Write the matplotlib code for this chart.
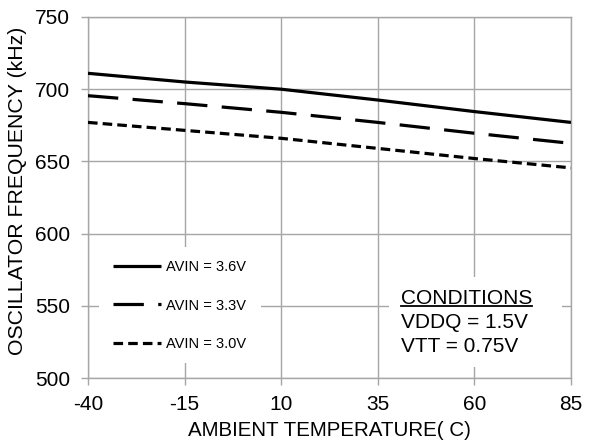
import matplotlib
matplotlib.use("Agg")
import matplotlib.pyplot as plt
from matplotlib.patches import Rectangle

temps = [-40, -15, 10, 35, 60, 85]
avin_36 = [711, 705, 700, 692.5, 684.5, 677]
avin_33 = [695.5, 690, 684, 677, 669.5, 662.5]
avin_30 = [677, 671.5, 666, 659, 652, 645.5]
labels = ["AVIN = 3.6V", "AVIN = 3.3V", "AVIN = 3.0V"]
yticks = [500, 550, 600, 650, 700, 750]
cond_title = "CONDITIONS"
cond_lines = ["VDDQ = 1.5V", "VTT = 0.75V"]

plt.rcParams['font.family'] = ['Liberation Sans', 'DejaVu Sans']

W, H = 596, 442
fig = plt.figure(figsize=(W/100, H/100), dpi=100)
L, R, T, B = 88, 571, 17, 378
ax = fig.add_axes([L/W, 1 - B/H, (R-L)/W, (B-T)/H])

def ax_x(px):
    return (px - L) / (R - L)

def ax_y(py):
    return (B - py) / (B - T)

grid_c = '#a6a6a6'
lw = 2.3
ax.plot(temps, avin_36, color='black', lw=lw, solid_capstyle='butt', label=labels[0], zorder=3)
ax.plot(temps, avin_33, color='black', lw=lw, dashes=(9.5, 4.5), label=labels[1], zorder=3)
ax.plot(temps, avin_30, color='black', lw=lw, dashes=(3.0, 1.6), label=labels[2], zorder=3)

ax.set_xlim(-40, 85)
ax.set_ylim(500, 750)
ax.set_xticks(temps)
ax.set_xticklabels([str(t) for t in temps])
ax.set_yticks(yticks)
ax.grid(True, color=grid_c, lw=1.0, zorder=0)
ax.set_axisbelow(True)
for s in ax.spines.values():
    s.set_color(grid_c)
    s.set_linewidth(1.0)
ax.tick_params(axis='both', colors=grid_c, length=5, width=1.0, labelcolor='black', labelsize=15)
ax.tick_params(axis='x', pad=7)
ax.tick_params(axis='y', pad=8)

fig.text(329.5/W, 1 - 430.5/H, "AMBIENT TEMPERATURE( C)", fontsize=14.8,
         ha='center', va='center')
fig.text(17.5/W, 1 - 191/H, "OSCILLATOR FREQUENCY (kHz)", fontsize=15.3,
         ha='center', va='center', rotation=90)

# legend background
ax.add_patch(Rectangle((ax_x(99), ax_y(363)), ax_x(261) - ax_x(99), ax_y(247) - ax_y(363),
                       transform=ax.transAxes, facecolor='white', edgecolor='none', zorder=1))
leg = ax.legend(loc='upper left', bbox_to_anchor=(ax_x(113), ax_y(260)),
                frameon=False, fontsize=10.5, handlelength=3.3, handletextpad=0.3,
                labelspacing=1.68, borderpad=0, borderaxespad=0)

# Conditions box
ax.add_patch(Rectangle((ax_x(389), ax_y(367)), ax_x(562) - ax_x(389), ax_y(277) - ax_y(367),
                       transform=ax.transAxes, facecolor='white', edgecolor='none', zorder=1))
ct = ax.text(ax_x(401), ax_y(304), cond_title, transform=ax.transAxes,
             ha='left', va='baseline', fontsize=15, zorder=4)
ax.text(ax_x(401), ax_y(328), cond_lines[0], transform=ax.transAxes,
        ha='left', va='baseline', fontsize=15, zorder=4)
ax.text(ax_x(401), ax_y(352), cond_lines[1], transform=ax.transAxes,
        ha='left', va='baseline', fontsize=15, zorder=4)

fig.canvas.draw()
bb = ct.get_window_extent()
x0, x1 = bb.x0, bb.x1
ax.plot([ax_x(x0), ax_x(x1)], [ax_y(306), ax_y(306)], transform=ax.transAxes,
        color='black', lw=1.3, zorder=4)

fig.savefig("out.png", dpi=100)
